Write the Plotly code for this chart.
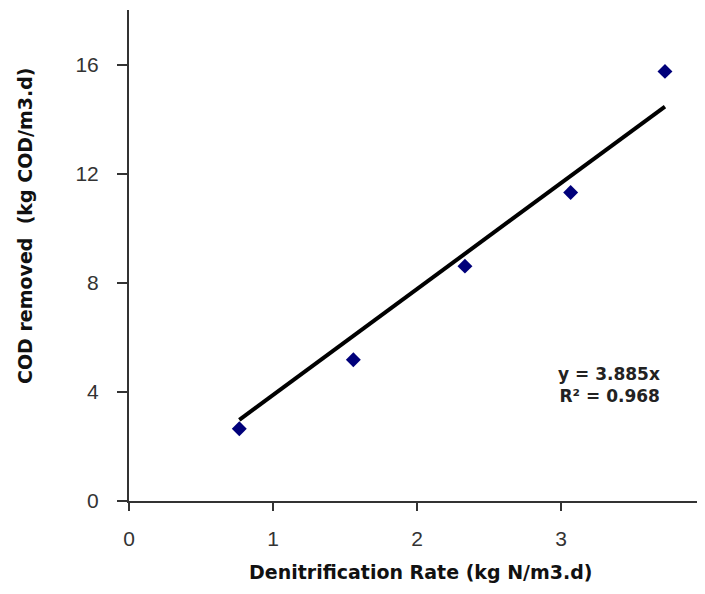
import plotly.graph_objects as go

rate = [0.766, 1.558, 2.333, 3.067, 3.722]
cod = [2.65, 5.18, 8.61, 11.31, 15.75]
slope = 3.885
fit_x = [min(rate), max(rate)]
fit_y = [slope * v for v in fit_x]
ytick_vals = [0, 4, 8, 12, 16]
xtick_vals = [0, 1, 2, 3, 4]

title_font = dict(family="DejaVu Sans", size=19, color="#111", weight="bold")

fig = go.Figure()
fig.add_trace(go.Scatter(x=rate, y=cod, mode="markers",
                         marker=dict(symbol="diamond", size=11.5, color="#00007a"),
                         showlegend=False, cliponaxis=False))
fig.add_trace(go.Scatter(x=fit_x, y=fit_y, mode="lines",
                         line=dict(color="black", width=4), showlegend=False))

fig.add_annotation(x=3.70, y=4.25, xref="x", yref="y", xanchor="right", yanchor="middle",
                   text="<b>y = 3.885x</b><br><b>R² = 0.968</b>", showarrow=False, align="right",
                   font=dict(family="DejaVu Sans", size=17, color="#222"))

fig.add_annotation(x=0.507, y=-0.1446, xref="paper", yref="paper", xanchor="center", yanchor="middle",
                   text="<b>Denitrification Rate (kg N/m3.d)</b>", showarrow=False, font=title_font)
fig.add_annotation(x=-0.1806, y=0.562, xref="paper", yref="paper", xanchor="center", yanchor="middle",
                   textangle=-90, text="<b>COD removed  (kg COD/m3.d)</b>", showarrow=False,
                   font=title_font)

fig.update_layout(
    width=697, height=586,
    margin=dict(l=121, r=0, t=2, b=93, autoexpand=False),
    paper_bgcolor="white", plot_bgcolor="white",
    font=dict(family="Liberation Sans, Arial", color="#222"),
    xaxis=dict(range=[0, 4], tickvals=xtick_vals, ticks="outside", ticklen=8, tickcolor="#333",
               tickwidth=1.5, showline=True, linecolor="#333", linewidth=2, showgrid=False,
               zeroline=False, automargin=False, ticklabelstandoff=10,
               ticklabeloverflow="allow",
               tickfont=dict(size=21, color="#333")),
    yaxis=dict(range=[0, 18], tickvals=ytick_vals, ticks="outside", ticklen=10, tickcolor="#333",
               tickwidth=1.5, showline=True, linecolor="#333", linewidth=2, showgrid=False,
               zeroline=False, automargin=False, ticklabelstandoff=14,
               tickfont=dict(size=21, color="#333")),
)

fig.write_html("out.html")
